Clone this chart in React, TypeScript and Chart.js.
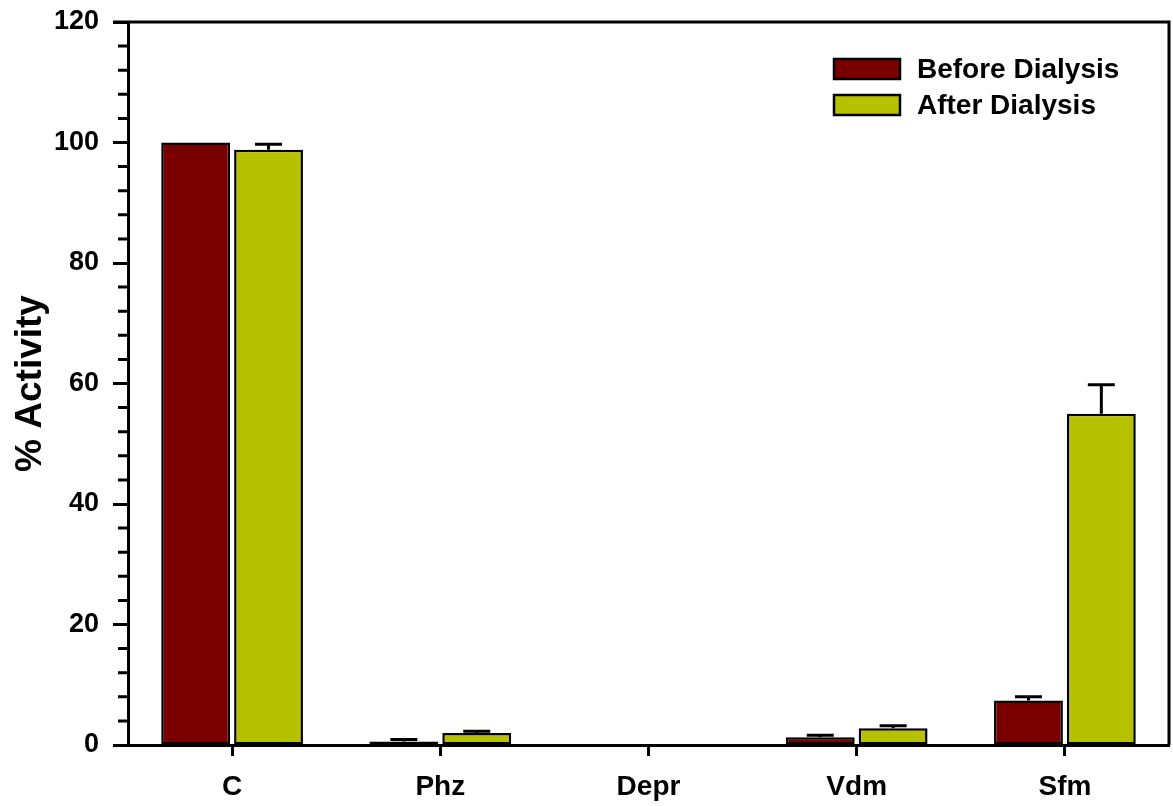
import React, { useEffect, useRef } from "react";
import { Chart, registerables } from "chart.js";

Chart.register(...registerables);

const categories = ["C", "Phz", "Depr", "Vdm", "Sfm"];
const beforeValues = [100, 0.6, 0, 1.3, 7.4];
const beforeErrors = [0, 0.3, 0, 0.3, 0.6];
const afterValues = [98.8, 2.0, 0, 2.8, 55.0];
const afterErrors = [0.9, 0.3, 0, 0.4, 4.8];
const seriesNames = ["Before Dialysis", "After Dialysis"];
const seriesColors = ["#7a0000", "#b6c200"];

const FONT = "'Liberation Sans', Arial, sans-serif";

const errorBarPlugin = {
  id: "errorBars",
  afterDatasetsDraw(chart: any) {
    const ctx = chart.ctx;
    const yScale = chart.scales.y;
    const errs = [beforeErrors, afterErrors];
    ctx.save();
    ctx.strokeStyle = "#000";
    ctx.lineWidth = 3;
    chart.data.datasets.forEach((ds: any, di: number) => {
      const meta = chart.getDatasetMeta(di);
      meta.data.forEach((bar: any, i: number) => {
        const e = errs[di][i];
        const v = ds.data[i];
        if (!e || !v) return;
        const x = bar.x;
        const yTop = yScale.getPixelForValue(v + e);
        const yBase = bar.y;
        ctx.beginPath();
        ctx.moveTo(x, yBase);
        ctx.lineTo(x, yTop);
        ctx.moveTo(x - 13.5, yTop);
        ctx.lineTo(x + 13.5, yTop);
        ctx.stroke();
      });
    });
    ctx.restore();
  },
};

const framePlugin = {
  id: "frame",
  afterDraw(chart: any) {
    const { ctx, chartArea } = chart;
    const y = chart.scales.y;
    ctx.save();
    ctx.strokeStyle = "#000";
    ctx.lineWidth = 3;
    // top and right borders
    ctx.beginPath();
    ctx.moveTo(chartArea.left - 15, chartArea.top);
    ctx.lineTo(chartArea.right, chartArea.top);
    ctx.lineTo(chartArea.right, chartArea.bottom);
    ctx.stroke();
    // minor ticks
    ctx.beginPath();
    for (let v = 0; v <= 120; v += 4) {
      if (v % 20 === 0) continue;
      const py = y.getPixelForValue(v);
      ctx.moveTo(chartArea.left - 10, py);
      ctx.lineTo(chartArea.left, py);
    }
    ctx.stroke();
    // legend
    ctx.font = `bold 28px ${FONT}`;
    ctx.textBaseline = "middle";
    ctx.lineWidth = 2.5;
    seriesNames.forEach((name, i) => {
      const bx = 834;
      const by = 59 + i * 36;
      ctx.fillStyle = seriesColors[i];
      ctx.fillRect(bx, by, 66, 20);
      ctx.strokeRect(bx, by, 66, 20);
      ctx.fillStyle = "#000";
      ctx.fillText(name, 917, by + 11);
    });
    ctx.restore();
  },
};

export default function App() {
  const ref = useRef<HTMLCanvasElement>(null);
  useEffect(() => {
    if (!ref.current) return;
    const barCommon = {
      borderColor: "#000",
      borderWidth: 2.5,
      borderSkipped: false,
      categoryPercentage: 0.7,
      barPercentage: 0.945,
    };
    const chart = new Chart(ref.current, {
      type: "bar",
      data: {
        labels: categories,
        datasets: [
          { label: seriesNames[0], data: beforeValues, backgroundColor: seriesColors[0], ...barCommon },
          { label: seriesNames[1], data: afterValues, backgroundColor: seriesColors[1], ...barCommon },
        ],
      },
      options: {
        animation: false,
        responsive: false,
        maintainAspectRatio: false,
        layout: { padding: { top: 22, right: 4, left: 0, bottom: 0 } },
        plugins: { legend: { display: false }, tooltip: { enabled: false } },
        scales: {
          x: {
            offset: true,
            border: { display: true, color: "#000", width: 3 },
            grid: {
              display: true,
              drawOnChartArea: false,
              drawTicks: true,
              tickLength: 11,
              tickWidth: 3,
              tickColor: "#000",
              offset: false,
              color: "#000",
            },
            ticks: {
              color: "#000",
              font: { family: FONT, size: 28, weight: "bold" },
              padding: 14,
              maxRotation: 0,
            },
            afterFit(scale: any) {
              scale.height = 61;
              scale.paddingLeft = 0;
              scale.paddingRight = 0;
            },
          },
          y: {
            min: 0,
            max: 120,
            border: { display: true, color: "#000", width: 3 },
            grid: {
              display: true,
              drawOnChartArea: false,
              drawTicks: true,
              tickLength: 15,
              tickWidth: 3,
              tickColor: "#000",
            },
            ticks: {
              stepSize: 20,
              color: "#000",
              font: { family: FONT, size: 27, weight: "bold" },
              padding: 14,
            },
            title: {
              display: true,
              text: "% Activity",
              color: "#000",
              font: { family: FONT, size: 37, weight: "bold" },
              padding: { top: 9, bottom: 0 },
            },
            afterFit(scale: any) {
              scale.width = 128;
              scale.paddingTop = 0;
              scale.paddingBottom = 0;
            },
          },
        },
      },
      plugins: [errorBarPlugin, framePlugin],
    });
    return () => chart.destroy();
  }, []);
  return (
    <div style={{ position: "absolute", left: 0, top: 0, width: 1173, height: 806, background: "#fff" }}>
      <canvas ref={ref} width={1173} height={806} style={{ width: 1173, height: 806, display: "block" }} />
    </div>
  );
}
